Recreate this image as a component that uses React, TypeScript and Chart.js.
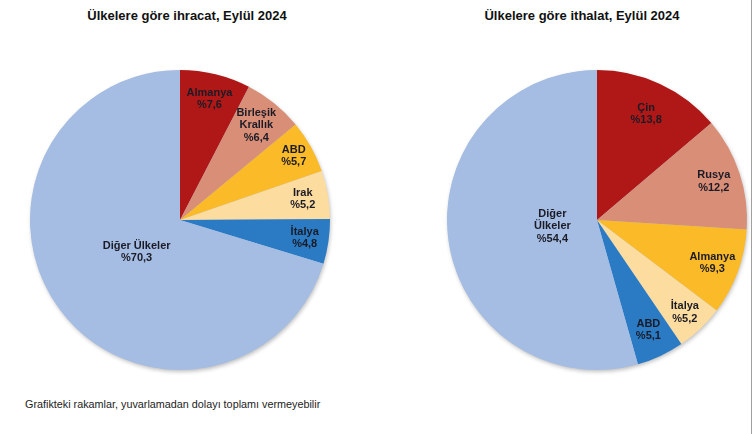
import { useEffect, useRef } from "react";
import { Chart, registerables } from "chart.js";
import type { Plugin } from "chart.js";

Chart.register(...registerables);

const exportCountries = [["Almanya"], ["Birleşik", "Krallık"], ["ABD"], ["Irak"], ["İtalya"], ["Diğer Ülkeler"]];
const exportShares = [7.6, 6.4, 5.7, 5.2, 4.8, 70.3];

const importCountries = [["Çin"], ["Rusya"], ["Almanya"], ["İtalya"], ["ABD"], ["Diğer", "Ülkeler"]];
const importShares = [13.8, 12.2, 9.3, 5.2, 5.1, 54.4];

const sliceColors = ["#B01818", "#D98E78", "#FBBA28", "#FDDC9F", "#2A7BC4", "#A5BDE2"];

// how far out (fraction of radius) each label sits
const exportLabelRadius = [0.83, 0.81, 0.87, 0.83, 0.84, 0.36];
const importLabelRadius = [0.78, 0.82, 0.82, 0.85, 0.81, 0.3];

const FONT = "'Liberation Sans', Arial, sans-serif";

const pieShadow: Plugin<"pie"> = {
  id: "pieShadow",
  beforeDatasetsDraw(chart) {
    const arc = chart.getDatasetMeta(0).data[0] as any;
    if (!arc) return;
    const ctx = chart.ctx;
    ctx.save();
    ctx.shadowColor = "rgba(0,0,0,0.28)";
    ctx.shadowBlur = 4;
    ctx.shadowOffsetX = 1;
    ctx.shadowOffsetY = 2;
    ctx.fillStyle = "#A5BDE2";
    ctx.beginPath();
    ctx.arc(arc.x, arc.y, arc.outerRadius - 0.5, 0, Math.PI * 2);
    ctx.fill();
    ctx.restore();
  },
};

function makeLabels(radii: number[]): Plugin<"pie"> {
  return {
    id: "sliceLabels",
    afterDatasetsDraw(chart) {
      const ctx = chart.ctx;
      const meta = chart.getDatasetMeta(0);
      const values = chart.data.datasets[0].data as number[];
      const labels = chart.data.labels as string[][];
      ctx.save();
      ctx.font = `bold 11px ${FONT}`;
      ctx.fillStyle = "#1b1b26";
      ctx.textAlign = "center";
      ctx.textBaseline = "middle";
      meta.data.forEach((el: any, i) => {
        const mid = (el.startAngle + el.endAngle) / 2;
        const r = el.outerRadius * radii[i];
        const cx = el.x + Math.cos(mid) * r;
        const cy = el.y + Math.sin(mid) * r;
        const lines = [...labels[i], "%" + values[i].toFixed(1).replace(".", ",")];
        const lh = 12.5;
        const top = cy - ((lines.length - 1) * lh) / 2;
        lines.forEach((t, j) => ctx.fillText(t, cx, top + j * lh));
      });
      ctx.restore();
    },
  };
}

function PieBox({ labels, values, radii, left }: { labels: string[][]; values: number[]; radii: number[]; left: number }) {
  const canvasRef = useRef<HTMLCanvasElement>(null);

  useEffect(() => {
    if (!canvasRef.current) return;
    const chart = new Chart(canvasRef.current, {
      type: "pie",
      data: {
        labels,
        datasets: [{ data: values, backgroundColor: sliceColors, borderWidth: 0 }],
      },
      options: {
        animation: false,
        responsive: false,
        layout: { padding: 10 },
        plugins: { legend: { display: false }, tooltip: { enabled: false } },
      },
      plugins: [pieShadow, makeLabels(radii)],
    });
    return () => chart.destroy();
  }, []);

  return (
    <canvas
      ref={canvasRef}
      width={320}
      height={320}
      style={{ position: "absolute", left: left - 160, top: 220 - 160, width: 320, height: 320 }}
    />
  );
}

export default function App() {
  const title: React.CSSProperties = {
    position: "absolute",
    top: 8,
    width: 300,
    textAlign: "center",
    font: `bold 13px ${FONT}`,
    color: "#111",
  };
  return (
    <div
      style={{
        position: "fixed",
        left: 0,
        top: 0,
        width: 753,
        height: 434,
        background: "#fff",
        overflow: "hidden",
      }}
    >
      <div style={{ ...title, left: 187 - 150 }}>Ülkelere göre ihracat, Eylül 2024</div>
      <div style={{ ...title, left: 582 - 150 }}>Ülkelere göre ithalat, Eylül 2024</div>
      <PieBox labels={exportCountries} values={exportShares} radii={exportLabelRadius} left={180} />
      <PieBox labels={importCountries} values={importShares} radii={importLabelRadius} left={597} />
      <div
        style={{
          position: "absolute",
          left: 25,
          top: 398,
          font: `10.8px ${FONT}`,
          color: "#222",
          whiteSpace: "nowrap",
        }}
      >
        Grafikteki rakamlar, yuvarlamadan dolayı toplamı vermeyebilir
      </div>
      <div style={{ position: "absolute", left: 751, top: 0, width: 1, height: 434, background: "#a0a0a0" }} />
    </div>
  );
}
